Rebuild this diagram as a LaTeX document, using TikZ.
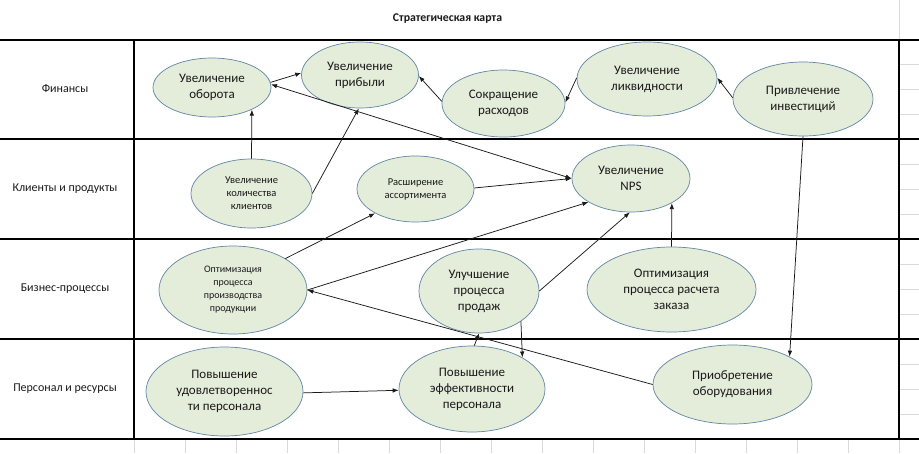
\documentclass[tikz,border=0pt]{standalone}
\usepackage{fontspec}
\setmainfont{Carlito}
\usetikzlibrary{shapes.geometric,arrows.meta}
\definecolor{ellfill}{HTML}{E4ECDA}
\definecolor{elldraw}{HTML}{6286A6}
\definecolor{gridgray}{HTML}{D9D9D9}
\definecolor{txt}{HTML}{1A1A1A}
\begin{document}
\begin{tikzpicture}[x=1pt,y=-1pt,
  goal/.style={ellipse,draw=elldraw,fill=ellfill,line width=0.7pt,inner sep=0pt,align=center,text=txt,font=\fontsize{13}{16}\selectfont},
  goalsmall/.style={goal,font=\fontsize{10.5}{13}\selectfont},
  conn/.style={-{Latex[length=6pt,width=4.5pt]},line width=0.75pt,draw=txt},
  biconn/.style={{Latex[length=6pt,width=4.5pt]}-{Latex[length=6pt,width=4.5pt]},line width=0.75pt,draw=txt},
  rowlabel/.style={text=txt,font=\fontsize{12}{14}\selectfont},
  frame/.style={line width=1.2pt,draw=black},
  gridline/.style={line width=0.8pt,draw=gridgray}]
\useasboundingbox (0,0) rectangle (919,453);
\fill[white] (0,0) rectangle (919,453);
% light grid
\draw[gridline] (899,0) -- (899,453);
\foreach \yy in {64,89,114,164,189,214,264,289,314,364,389,414}
  \draw[gridline] (899,\yy) -- (919,\yy);
\foreach \xx in {134,185,236,287,338,389,440,491,542,593,644,695,746,797,848}
  \draw[gridline] (\xx,439) -- (\xx,453);
% frame
\foreach \yy in {40,139,239,339,439}
  \draw[frame] (0,\yy) -- (919,\yy);
\draw[frame] (134,40) -- (134,439);
\draw[frame] (899,40) -- (899,439);
% title and row labels
\node[text=txt,font=\bfseries\fontsize{11.8}{14}\selectfont] (title) at (447.5,19) {Стратегическая карта};
\node[rowlabel] (r1) at (65,89) {Финансы};
\node[rowlabel] (r2) at (65,189) {Клиенты и продукты};
\node[rowlabel] (r3) at (65,289) {Бизнес-процессы};
\node[rowlabel] (r4) at (65,389) {Персонал и ресурсы};
% goals
\node[goal,minimum width=118pt,minimum height=59pt] (A) at (212,87.5) {Увеличение\\оборота};
\node[goal,minimum width=117pt,minimum height=66pt] (B) at (360,75) {Увеличение\\прибыли};
\node[goal,minimum width=123pt,minimum height=67pt] (C) at (503.5,103.5) {Сокращение\\расходов};
\node[goal,minimum width=140pt,minimum height=74pt] (D) at (647,79) {Увеличение\\ликвидности};
\node[goal,minimum width=140pt,minimum height=74pt] (E) at (803,99) {Привлечение\\инвестиций};
\node[goalsmall,minimum width=121pt,minimum height=69pt] (F) at (251.5,193.5) {Увеличение\\количества\\клиентов};
\node[goalsmall,minimum width=117pt,minimum height=66pt] (G) at (415.5,189) {Расширение\\ассортимента};
\node[goal,minimum width=118pt,minimum height=67pt] (H) at (631,178.5) {Увеличение\\NPS};
\node[goalsmall,font=\fontsize{10}{13}\selectfont,minimum width=148pt,minimum height=88pt] (I) at (233,290) {Оптимизация\\процесса\\производства\\продукции};
\node[goal,minimum width=120pt,minimum height=84pt] (J) at (479,291) {Улучшение\\процесса\\продаж};
\node[goal,minimum width=169pt,minimum height=85pt] (K) at (671.5,289.5) {Оптимизация\\процесса расчета\\заказа};
\node[goal,minimum width=157pt,minimum height=89pt] (L) at (224.5,391.5) {Повышение\\удовлетвореннос\\ти персонала};
\node[goal,minimum width=146pt,minimum height=86pt] (M) at (472,389) {Повышение\\эффективности\\персонала};
\node[goal,minimum width=159pt,minimum height=79pt] (N) at (732.5,384.5) {Приобретение\\оборудования};
% connectors
\draw[conn] (A.5) -- (B.178);
\draw[conn] (C.178) -- (B.359);
\draw[conn] (D.179) -- (C.1);
\draw[conn] (E.179) -- (D.1);
\draw[conn] (E.270) -- (N.26);
\draw[conn] (F.90) -- (A.331);
\draw[conn] (F.0) -- (B.268);
\draw[biconn] (A.3) -- (H.180);
\draw[conn] (G.1) -- (H.180);
\draw[conn] (I.31) -- (G.211);
\draw[conn] (I.0) -- (H.209);
\draw[conn] (J.0) -- (H.268);
\draw[conn] (K.90) -- (H.329);
\draw[conn] (N.180) -- (I.0);
\draw[conn] (J.324) -- (M.32);
\draw[conn] (M.87) -- (J.270);
\draw[conn] (L.359) -- (M.181);
\end{tikzpicture}
\end{document}
